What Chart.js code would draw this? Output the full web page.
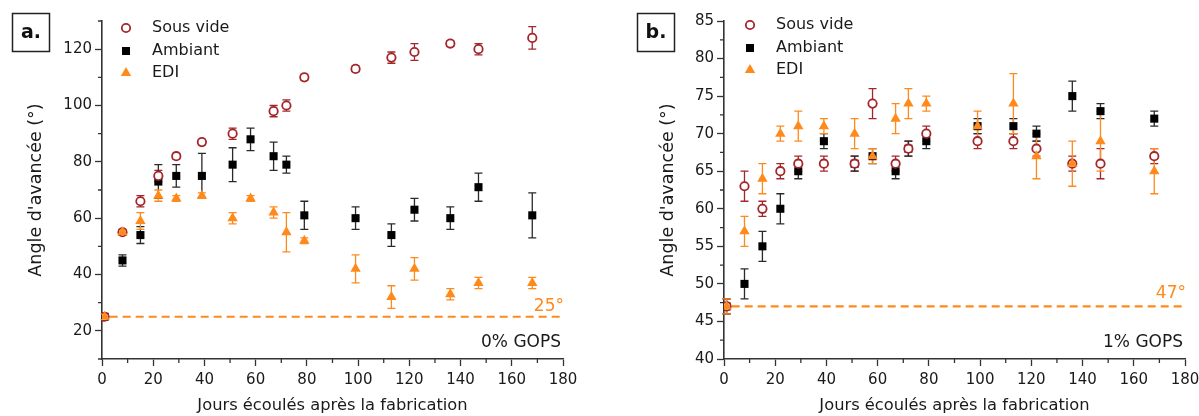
<!DOCTYPE html>
<html><head><meta charset="utf-8">
<script src="https://cdn.jsdelivr.net/npm/chart.js@4.4.1/dist/chart.umd.min.js"></script>
<style>
html,body{margin:0;padding:0;background:#fff;overflow:hidden;width:1199px;height:416px;}
#ca{position:absolute;left:0;top:0;}
#cb{position:absolute;left:600px;top:0;}
</style></head><body>
<canvas id="ca" width="600" height="416"></canvas>
<canvas id="cb" width="640" height="416"></canvas>
<script>
// ---- data ----
const days = [1, 8, 15, 22, 29, 39, 51, 58, 67, 72, 79, 99, 113, 122, 136, 147, 168];
const seriesNames = ['Sous vide', 'Ambiant', 'EDI'];

// panel a : 0% GOPS
const sousVideA    = [25, 55, 66, 75, 82, 87, 90, null, 98, 100, 110, 113, 117, 119, 122, 120, 124];
const sousVideErrA = [0, 1, 2, 2, 1, 1, 2, 0, 2, 2, 1, 1, 2, 3, 1, 2, 4];
const ambiantA     = [25, 45, 54, 73, 75, 75, 79, 88, 82, 79, 61, 60, 54, 63, 60, 71, 61];
const ambiantErrA  = [0, 2, 3, 6, 4, 8, 6, 4, 5, 3, 5, 4, 4, 4, 4, 5, 8];
const ediA         = [25, 55, 59, 68, 67, 68, 60, 67, 62, 55, 52, 42, 32, 42, 33, 37, 37];
const ediErrA      = [1, 1, 3, 2, 1, 1, 2, 1, 2, 7, 1, 5, 4, 4, 2, 2, 2];
const baseA = 25;

// panel b : 1% GOPS
const sousVideB    = [47, 63, 60, 65, 66, 66, 66, 74, 66, 68, 70, 69, 69, 68, 66, 66, 67];
const sousVideErrB = [1, 2, 1, 1, 1, 1, 1, 2, 1, 1, 1, 1, 1, 1, 1, 2, 1];
const ambiantB     = [47, 50, 55, 60, 65, 69, 66, 67, 65, 68, 69, 71, 71, 70, 75, 73, 72];
const ambiantErrB  = [1, 2, 2, 2, 1, 1, 1, 1, 1, 1, 1, 1, 1, 1, 2, 1, 1];
const ediB         = [47, 57, 64, 70, 71, 71, 70, 67, 72, 74, 74, 71, 74, 67, 66, 69, 65];
const ediErrB      = [1, 2, 2, 1, 2, 1, 2, 1, 2, 2, 1, 2, 4, 3, 3, 4, 3];
const baseB = 47;

// ticks
const xTicks = [0, 20, 40, 60, 80, 100, 120, 140, 160, 180];
const xMinor = [10, 30, 50, 70, 90, 110, 130, 150, 170];
const yTicksA = [20, 40, 60, 80, 100, 120];
const yMinorA = [10, 30, 50, 70, 90, 110, 130];
const yTicksB = [40, 45, 50, 55, 60, 65, 70, 75, 80, 85];
const yMinorB = [42.5, 47.5, 52.5, 57.5, 62.5, 67.5, 72.5, 77.5, 82.5];

const xTitle = 'Jours écoulés après la fabrication';
const yTitle = "Angle d'avancée (°)";
const dashStart = 3, dashEnd = 180;

// ---- styles ----
const FONT = 'DejaVu Sans';
const RED = '#a3262b', BLACK = '#000', ORANGE = '#ff8a1c';
const TXT = '#1a1a1a', AX = '#333';

function pts(vals) {
  return days.map((d, i) => vals[i] == null ? null : {x: d, y: vals[i]}).filter(p => p);
}
function errs(vals, e) {
  return days.map((d, i) => vals[i] == null ? null : e[i]).filter(v => v !== null);
}

function drawMarker(ctx, kind, x, y) {
  ctx.save();
  if (kind === 0) {
    ctx.beginPath(); ctx.arc(x, y, 4.2, 0, Math.PI * 2);
    ctx.fillStyle = '#fff'; ctx.fill();
    ctx.lineWidth = 1.8; ctx.strokeStyle = RED; ctx.stroke();
  } else if (kind === 1) {
    ctx.fillStyle = BLACK; ctx.fillRect(x - 4, y - 4, 8, 8);
  } else {
    const r = 6;
    ctx.beginPath();
    ctx.moveTo(x, y - r);
    ctx.lineTo(x + r * Math.sin(2 * Math.PI / 3), y - r * Math.cos(2 * Math.PI / 3));
    ctx.lineTo(x + r * Math.sin(4 * Math.PI / 3), y - r * Math.cos(4 * Math.PI / 3));
    ctx.closePath(); ctx.fillStyle = ORANGE; ctx.fill();
  }
  ctx.restore();
}

function build(id, cfg) {
  const errPlugin = {
    id: 'errbars',
    beforeDatasetsDraw(chart) {
      const {ctx, scales: {x, y}} = chart;
      ctx.save();
      chart.data.datasets.forEach(ds => {
        if (!ds.errors) return;
        ctx.strokeStyle = ds.errColor; ctx.lineWidth = 1.3;
        ds.data.forEach((p, i) => {
          const e = ds.errors[i];
          if (!e) return;
          const px = x.getPixelForValue(p.x);
          const y1 = y.getPixelForValue(p.y + e), y2 = y.getPixelForValue(p.y - e);
          ctx.beginPath();
          ctx.moveTo(px, y1); ctx.lineTo(px, y2);
          ctx.moveTo(px - 4, y1); ctx.lineTo(px + 4, y1);
          ctx.moveTo(px - 4, y2); ctx.lineTo(px + 4, y2);
          ctx.stroke();
        });
      });
      ctx.restore();
    }
  };
  const deco = {
    id: 'deco',
    afterDraw(chart) {
      const {ctx, scales: {x, y}, chartArea: ca} = chart;
      ctx.save();
      // minor ticks
      ctx.strokeStyle = AX; ctx.lineWidth = 1.3;
      ctx.beginPath();
      xMinor.forEach(v => { const px = x.getPixelForValue(v); ctx.moveTo(px, ca.bottom); ctx.lineTo(px, ca.bottom + 4); });
      cfg.yMinor.forEach(v => { const py = y.getPixelForValue(v); ctx.moveTo(ca.left - 4, py); ctx.lineTo(ca.left, py); });
      ctx.stroke();
      // panel label box
      ctx.lineWidth = 1.5; ctx.strokeStyle = '#222';
      ctx.strokeRect(cfg.boxX + 0.5, 13.5, 37, 38);
      ctx.fillStyle = '#111'; ctx.font = 'bold 19px ' + FONT;
      ctx.textAlign = 'center'; ctx.textBaseline = 'middle';
      ctx.fillText(cfg.label, cfg.boxX + 19, 33);
      // legend
      ctx.font = '16px ' + FONT; ctx.textAlign = 'left'; ctx.fillStyle = TXT;
      seriesNames.forEach((n, k) => {
        const ly = cfg.legY[k];
        drawMarker(ctx, k, cfg.legX, ly);
        ctx.fillStyle = TXT;
        ctx.fillText(n, cfg.legX + 26, ly);
      });
      // baseline label
      const by = y.getPixelForValue(cfg.base);
      ctx.fillStyle = ORANGE; ctx.font = '17px ' + FONT; ctx.textAlign = 'right';
      ctx.fillText(cfg.base + '°', ca.right + 1, by - cfg.baseOff);
      // GOPS label
      ctx.fillStyle = TXT; ctx.font = '17px ' + FONT;
      ctx.fillText(cfg.gops, ca.right - 2, 343);
      ctx.restore();
    }
  };
  return new Chart(document.getElementById(id), {
    type: 'scatter',
    data: {
      datasets: [
        {label: seriesNames[0], data: pts(cfg.sv), errors: errs(cfg.sv, cfg.svE), errColor: RED, order: 2,
         pointStyle: 'circle', pointRadius: 4.2, pointBackgroundColor: '#fff', pointBorderColor: RED, pointBorderWidth: 1.8},
        {label: seriesNames[1], data: pts(cfg.am), errors: errs(cfg.am, cfg.amE), errColor: '#2a2a2a', order: 3,
         pointStyle: 'rect', pointRadius: 5.7, pointBackgroundColor: BLACK, pointBorderColor: BLACK, pointBorderWidth: 0},
        {label: seriesNames[2], data: pts(cfg.ed), errors: errs(cfg.ed, cfg.edE), errColor: ORANGE, order: 1,
         pointStyle: 'triangle', pointRadius: 6, pointBackgroundColor: ORANGE, pointBorderColor: ORANGE, pointBorderWidth: 0},
        {type: 'line', data: [{x: dashStart, y: cfg.base}, {x: dashEnd, y: cfg.base}], order: 5,
         borderColor: ORANGE, borderWidth: 2.2, borderDash: [8, 5], pointRadius: 0, fill: false}
      ]
    },
    options: {
      responsive: false, animation: false, devicePixelRatio: 1,
      layout: {padding: {left: 0, right: cfg.padRight, top: 21, bottom: 0}},
      plugins: {legend: {display: false}, tooltip: {enabled: false}},
      scales: {
        x: {
          type: 'linear', min: 0, max: 180,
          afterBuildTicks: s => { s.ticks = xTicks.map(v => ({value: v})); },
          afterFit: s => { s.height = 57; },
          ticks: {font: {family: FONT, size: 15}, color: TXT, padding: 5, maxRotation: 0, autoSkip: false},
          grid: {drawOnChartArea: false, tickLength: 7, tickColor: AX, tickWidth: 1.3},
          border: {color: AX, width: 1.6},
          title: {display: true, text: xTitle, font: {family: FONT, size: 16.3}, color: TXT, padding: {top: 0, bottom: 0}}
        },
        y: {
          type: 'linear', min: cfg.yMin, max: cfg.yMax,
          afterBuildTicks: s => { s.ticks = cfg.yTicks.map(v => ({value: v})); },
          afterFit: s => { s.width = cfg.yWidth; },
          ticks: {font: {family: FONT, size: 15}, color: TXT, padding: 3, autoSkip: false},
          grid: {drawOnChartArea: false, tickLength: 7, tickColor: AX, tickWidth: 1.3},
          border: {color: AX, width: 1.6},
          title: {display: true, text: yTitle, font: {family: FONT, size: 17.5}, color: TXT, padding: {top: cfg.yTitlePad, bottom: 0}}
        }
      }
    },
    plugins: [errPlugin, deco]
  });
}

build('ca', {sv: sousVideA, svE: sousVideErrA, am: ambiantA, amE: ambiantErrA, ed: ediA, edE: ediErrA,
  base: baseA, yMin: 10, yMax: 130, yTicks: yTicksA, yMinor: yMinorA, yWidth: 102, padRight: 37,
  yTitlePad: 25.5, boxX: 12, label: 'a.', legX: 126, legY: [28, 51, 73], gops: '0% GOPS', baseOff: 10});
build('cb', {sv: sousVideB, svE: sousVideErrB, am: ambiantB, amE: ambiantErrB, ed: ediB, edE: ediErrB,
  base: baseB, yMin: 40, yMax: 85, yTicks: yTicksB, yMinor: yMinorB, yWidth: 124, padRight: 55,
  yTitlePad: 57.5, boxX: 37, label: 'b.', legX: 150, legY: [25, 48, 70], gops: '1% GOPS', baseOff: 13});
</script>
</body></html>
